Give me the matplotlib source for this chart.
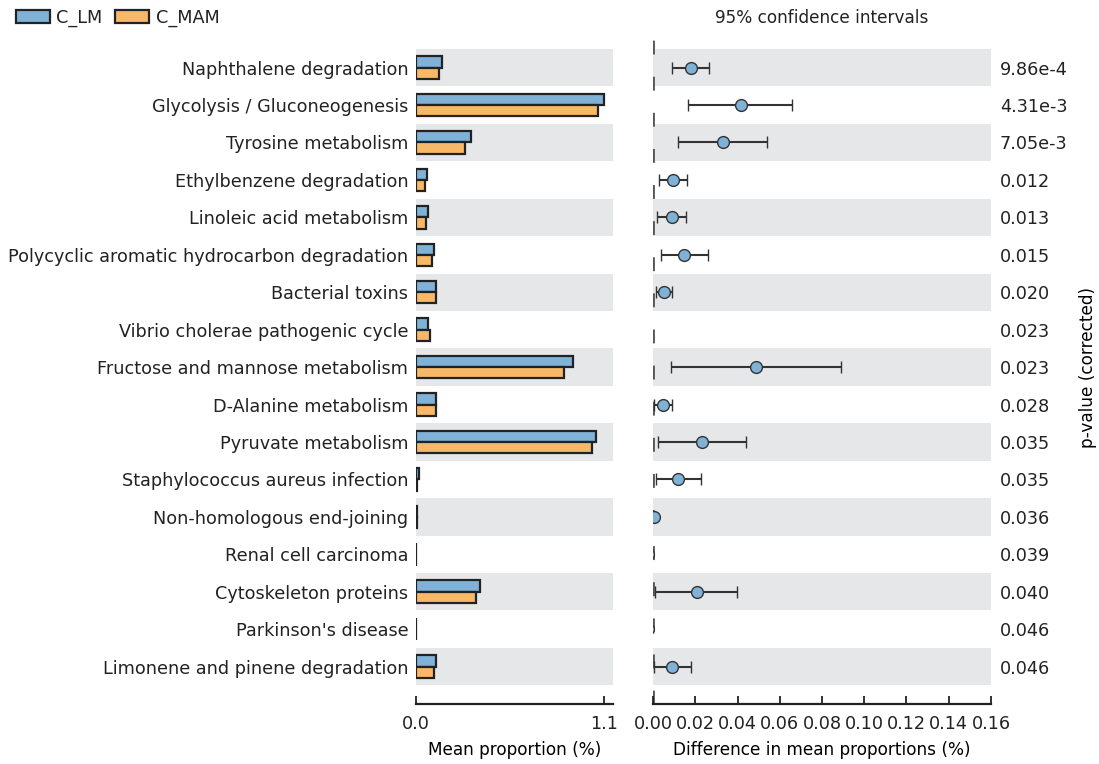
import numpy as np
import matplotlib.pyplot as plt
from matplotlib.patches import Patch

features = ['Naphthalene degradation', 'Glycolysis / Gluconeogenesis', 'Tyrosine metabolism',
            'Ethylbenzene degradation', 'Linoleic acid metabolism',
            'Polycyclic aromatic hydrocarbon degradation', 'Bacterial toxins',
            'Vibrio cholerae pathogenic cycle', 'Fructose and mannose metabolism',
            'D-Alanine metabolism', 'Pyruvate metabolism', 'Staphylococcus aureus infection',
            'Non-homologous end-joining', 'Renal cell carcinoma', 'Cytoskeleton proteins',
            "Parkinson's disease", 'Limonene and pinene degradation']
mean_lm = [0.150, 1.100, 0.320, 0.065, 0.070, 0.105, 0.120, 0.070, 0.920, 0.115,
           1.057, 0.015, 0.005, 0.003, 0.377, 0.002, 0.118]
mean_mam = [0.135, 1.065, 0.290, 0.055, 0.060, 0.095, 0.115, 0.080, 0.870, 0.115,
            1.030, 0.008, 0.004, 0.003, 0.354, 0.002, 0.103]
diff = [0.0178, 0.0415, 0.0330, 0.0093, 0.0088, 0.0148, 0.0051, -0.0060, 0.0486, 0.0049,
        0.0232, 0.0120, 0.0006, -0.0023, 0.0207, -0.0023, 0.0090]
ci_low = [0.0091, 0.0167, 0.0117, 0.0028, 0.0020, 0.0036, 0.0013, -0.0100, 0.0084, 0.0006,
          0.0022, 0.0014, 0.0003, -0.0026, 0.0009, -0.0026, 0.0003]
ci_high = [0.0265, 0.0658, 0.0538, 0.0160, 0.0156, 0.0259, 0.0091, -0.0020, 0.0888, 0.0088,
           0.0440, 0.0226, 0.0009, -0.0020, 0.0396, -0.0020, 0.0180]
pvalues = ['9.86e-4', '4.31e-3', '7.05e-3', '0.012', '0.013', '0.015', '0.020', '0.023',
           '0.023', '0.028', '0.035', '0.035', '0.036', '0.039', '0.040', '0.046', '0.046']

c_lm = '#80b2d7'
c_mam = '#f7b868'
band = '#e6e7e8'
edge = '#222222'
fs = 12.7

plt.rcParams['font.family'] = 'DejaVu Sans'
plt.rcParams['font.size'] = fs
plt.rcParams['text.color'] = '#222222'
plt.rcParams['xtick.labelcolor'] = '#222222'
plt.rcParams['ytick.labelcolor'] = '#222222'

fig = plt.figure(figsize=(10.99, 7.64), dpi=100)
ax1 = fig.add_axes([0.3785, 0.0785, 0.1793, 0.882])
ax2 = fig.add_axes([0.5942, 0.0785, 0.3075, 0.882])

n = len(features)
y = np.arange(n)
h = 0.3

for ax in (ax1, ax2):
    for i in range(0, n, 2):
        ax.axhspan(i - 0.5, i + 0.5, color=band, lw=0, zorder=0)
    ax.set_ylim(n, -1)
    for s in ('top', 'right', 'left'):
        ax.spines[s].set_visible(False)
    ax.spines['bottom'].set_linewidth(1.6)
    ax.spines['bottom'].set_color('#222222')
    ax.tick_params(axis='x', direction='in', length=6, width=1.3, color='#222222',
                   labelsize=fs, pad=8)
    ax.tick_params(axis='y', length=0)

ax1.barh(y - h / 2, mean_lm, height=h, color=c_lm, edgecolor=edge, linewidth=1.6, zorder=2)
ax1.barh(y + h / 2, mean_mam, height=h, color=c_mam, edgecolor=edge, linewidth=1.6, zorder=2)
ax1.set_xlim(0, 1.155)
ax1.set_xticks([0.0, 1.1])
ax1.set_xticklabels(['0.0', '1.1'])
ax1.set_yticks(y)
ax1.set_yticklabels(features, fontsize=fs)
ax1.tick_params(axis='y', pad=5.5)
ax1.set_xlabel('Mean proportion (%)', fontsize=fs - 0.5, labelpad=6)

diff = np.array(diff)
err = [diff - np.array(ci_low), np.array(ci_high) - diff]
ax2.axvline(0, color='#555555', ls=(0, (5, 8)), lw=2, zorder=1)
for i in range(n):
    col = c_lm if diff[i] >= 0 else c_mam
    ax2.errorbar(diff[i], y[i], xerr=[[err[0][i]], [err[1][i]]], fmt='o', color='#333333',
                 mfc=col, mec='#333333', ms=8.5, mew=1, elinewidth=1.5, capsize=4,
                 capthick=1.5, zorder=3, clip_on=True)
ax2.set_xlim(0, 0.16)
ax2.set_xticks(np.arange(0, 0.161, 0.02))
ax2.set_xticklabels(['%.2f' % v for v in np.arange(0, 0.161, 0.02)])
ax2.set_yticks(y)
ax2.set_yticklabels(pvalues, fontsize=fs)
ax2.yaxis.tick_right()
ax2.tick_params(axis='y', pad=6.5)
ax2.yaxis.set_label_position('right')
ax2.set_ylabel('p-value (corrected)', fontsize=fs - 0.5, labelpad=8)
ax2.set_xlabel('Difference in mean proportions (%)', fontsize=fs - 0.5, labelpad=6)
ax2.set_title('95% confidence intervals', fontsize=fs - 0.5, pad=5)

handles = [Patch(facecolor=c_lm, edgecolor=edge, linewidth=1.6, label='C_LM'),
           Patch(facecolor=c_mam, edgecolor=edge, linewidth=1.6, label='C_MAM')]
fig.legend(handles=handles, loc='upper left', bbox_to_anchor=(0.0, 1.01), ncol=2,
           frameon=False, fontsize=fs, handlelength=1.95, handleheight=0.75,
           columnspacing=0.7, handletextpad=0.35)

fig.savefig('out.png', dpi=100)
